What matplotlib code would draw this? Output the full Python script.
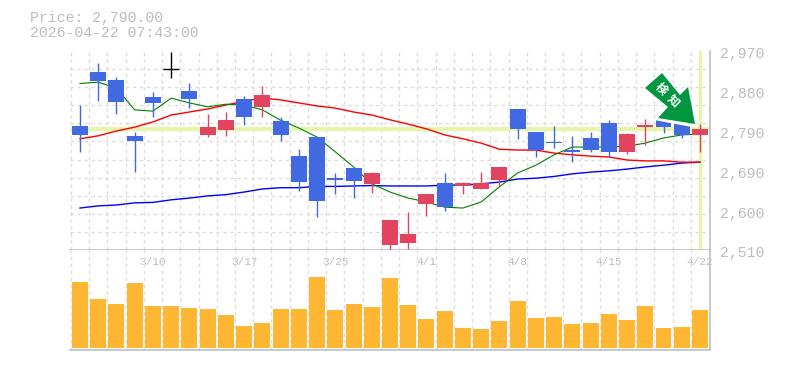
import matplotlib
matplotlib.use("Agg")
import matplotlib.pyplot as plt
import numpy as np
from matplotlib.patches import Polygon
from matplotlib.transforms import ScaledTranslation

opens = [2797,2921,2903,2774,2864,2928,2878,2776,2787,2859,2841,2808,2727,2771,2676,2700,2663,2522,2526,2616,
         2665,2658,2651,2672,2836,2783,2760,2741,2769,2804,2737,2794,2811,2804,2776]
closes = [2776,2901,2852,2762,2850,2928,2859,2794,2811,2817,2868,2776,2667,2623,2672,2670,2688,2579,2547,2639,
          2609,2665,2665,2702,2790,2741,2757,2737,2741,2737,2778,2799,2794,2776,2790]
highs = [2845,2942,2910,2783,2875,2968,2896,2824,2829,2866,2889,2817,2743,2771,2688,2700,2690,2579,2598,2639,
         2688,2667,2690,2702,2836,2783,2797,2774,2783,2811,2780,2813,2811,2804,2801]
lows = [2737,2854,2824,2690,2817,2908,2838,2771,2774,2799,2817,2762,2646,2586,2639,2630,2642,2508,2512,2589,
        2600,2639,2651,2658,2767,2725,2746,2713,2737,2725,2732,2753,2780,2769,2737]
ma_short = [2895,2898,2884,2834,2831,2861,2850,2841,2847,2845,2834,2810,2792,2771,2737,2702,2663,2644,2630,2621,
            2609,2607,2621,2656,2688,2706,2730,2748,2748,2748,2750,2757,2769,2776,2778]
ma_mid = [2767,2774,2785,2794,2806,2822,2829,2836,2845,2854,2861,2857,2850,2843,2838,2829,2822,2811,2801,2790,
          2776,2767,2757,2743,2741,2741,2734,2730,2727,2725,2718,2716,2716,2713,2713]
ma_long = [2607,2612,2614,2619,2620,2626,2630,2635,2638,2644,2651,2654,2654,2657,2657,2658,2659,2658,2658,2658,
           2660,2660,2663,2667,2674,2676,2680,2686,2690,2693,2697,2702,2706,2711,2713]
volumes = [66,49,44,65,42,42,40,39,33,22,25,39,39,71,38,44,41,70,
           43,29,37,20,19,27,47,30,31,24,25,34,28,42,20,21,38]
date_idx = [4,9,14,19,24,29,34]
date_labels = ["3/10","3/17","3/25","4/1","4/8","4/15","4/22"]
price_ticks = [2510,2602,2694,2786,2878,2970]
price_labels = ["2,510","2,600","2,690","2,790","2,880","2,970"]
last_price = 2790
title_lines = ["Price: 2,790.00","2026-04-22 07:43:00"]
badge_text = "検知"
badge_px = [(662,73),(645,88),(668,107),(658,118),(695,124),(688,87),(680,95)]
badge_edge_px = [(657,119),(695,126)]

BLUE="#4169E1"; RED="#E2435F"; GRID="#DDDDDD"; AXC="#BBBBBB"; LIME="#E6F5A8"; TXT="#BDBDBD"
W,H=785,370
fig=plt.figure(figsize=(W/100,H/100),dpi=100,facecolor="white")
def rect(l,t,r,b): return [l/W,1-b/H,(r-l)/W,(b-t)/H]
ax=fig.add_axes(rect(70,51,710,250))
axv=fig.add_axes(rect(70,250,710,350))
n=len(closes); x=np.arange(n)
xlim=(-0.548,34.55)
mono="Liberation Mono"

for a in (ax,axv):
    a.set_xlim(*xlim)
    a.set_axisbelow(True)
    a.set_facecolor("white")
    a.set_xticks(x-0.5,minor=True)
    a.tick_params(which="both",length=0)
    a.grid(True,which="minor",axis="x",color=GRID,lw=1,ls=(0,(2.5,2.5)))
    for s in ("left","top"): a.spines[s].set_visible(False)
    for s in ("right","bottom"):
        a.spines[s].set_color(AXC); a.spines[s].set_linewidth(1.1)

ax.set_ylim(2510,2970)
ax.set_yticks(np.linspace(2510,2970,12),minor=True)
ax.grid(True,which="minor",axis="y",color=GRID,lw=1,ls=(0,(2.5,2.5)))
ax.set_xticks([])
ax.yaxis.tick_right()
ax.set_yticks(price_ticks,price_labels)
ax.tick_params(axis="y",which="major",pad=7,labelsize=10.7,labelcolor=TXT)
off=ScaledTranslation(0,-1.4/72,fig.dpi_scale_trans)
for lab in ax.get_yticklabels():
    lab.set_fontfamily(mono)
    lab.set_transform(lab.get_transform()+off)

ax.axhline(last_price,color=LIME,lw=3,zorder=1.5)
ax.axvline(x[-1],color=LIME,lw=2.4,zorder=1.5)
ax.plot(x,ma_long,color="#0000FF",lw=1.0,zorder=2)
ax.plot(x,ma_mid,color="#FF0000",lw=1.0,zorder=2)
ax.plot(x,ma_short,color="#008000",lw=0.8,zorder=2)

for i in range(n):
    if closes[i]==opens[i]: c="black"
    elif closes[i]>opens[i]: c=RED
    else: c=BLUE
    ax.vlines(x[i],lows[i],highs[i],color=c,lw=1.0,zorder=3)
    if c=="black":
        ax.hlines(closes[i],x[i]-0.44,x[i]+0.44,color=c,lw=1.0,zorder=3)
    else:
        b=min(opens[i],closes[i]); h=abs(closes[i]-opens[i])
        ax.bar(x[i],h,bottom=b,width=0.877,color=c,zorder=3,linewidth=0)

axv.bar(x,volumes,width=0.877,color="#FFB733",zorder=3,linewidth=0)
axv.set_ylim(-2,98)
axv.set_yticks([])
axv.xaxis.tick_top()
axv.set_xticks(date_idx,date_labels)
axv.tick_params(axis="x",which="major",pad=-12,labelsize=8,labelcolor=TXT,labeltop=True)
for lab in axv.get_xticklabels():
    lab.set_fontfamily(mono)

fig.add_artist(plt.Line2D(*zip(*[(a/W,1-b/H) for a,b in badge_edge_px]),color="white",lw=2.2,zorder=8))
fig.add_artist(Polygon([(a/W,1-b/H) for a,b in badge_px],closed=True,facecolor="#00963F",edgecolor="none",
                       transform=fig.transFigure,zorder=9))
fig.text(661/W,1-89/H,badge_text[0],color="white",fontsize=8.5,fontweight="bold",rotation=-45,
         rotation_mode="anchor",ha="center",va="center",family=["Noto Sans CJK JP","DejaVu Sans"],zorder=10)
fig.text(673/W,1-101/H,badge_text[1],color="white",fontsize=8.5,fontweight="bold",rotation=-45,
         rotation_mode="anchor",ha="center",va="center",family=["Noto Sans CJK JP","DejaVu Sans"],zorder=10)

fig.text(30/W,1-18/H,title_lines[0],color=TXT,fontsize=10.7,family=mono,va="center",ha="left")
fig.text(30/W,1-33/H,title_lines[1],color=TXT,fontsize=10.7,family=mono,va="center",ha="left")
fig.savefig("out.png",dpi=100)
